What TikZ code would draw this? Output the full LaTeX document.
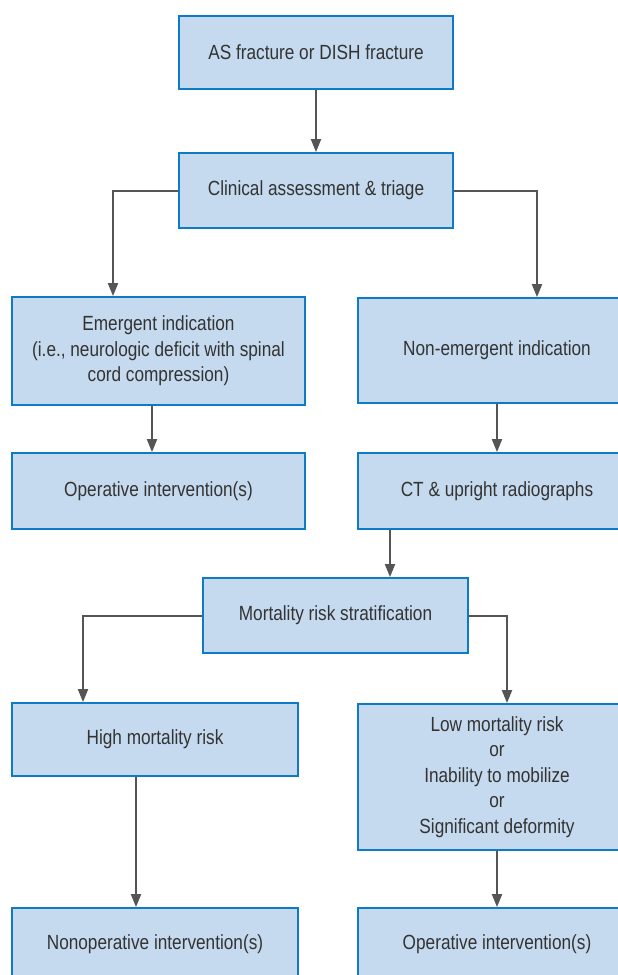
\documentclass[tikz,border=0pt]{standalone}
\usepackage{fontspec}
\setmainfont{Liberation Sans}[FakeStretch=0.84]
\usetikzlibrary{arrows.meta}
\definecolor{boxfill}{RGB}{197,218,238}
\definecolor{boxline}{RGB}{14,124,196}
\definecolor{arrowgray}{RGB}{85,85,85}
\begin{document}
\begin{tikzpicture}[x=1bp,y=-1bp]
        \tikzstyle{box}=[draw=boxline, line width=1.8bp, fill=boxfill, inner sep=0pt,
          align=center, text=black!80, font=\fontsize{20.5bp}{25.5bp}\selectfont]
        \tikzstyle{arr}=[draw=arrowgray, line width=2bp, -{Triangle[length=13bp,width=10bp]}]
        \useasboundingbox (0,0) rectangle (618,975);
        \clip (0,0) rectangle (618,975);
        % top part
        \node [box, minimum width=274bp, minimum height=73bp] (frac) at (316,52.5) {AS fracture or DISH fracture};
        \node [box, minimum width=274bp, minimum height=75bp] (clin) at (316,190.5) {Clinical assessment \& triage};
        \node [box, minimum width=293bp, minimum height=108bp] (emer) at (158.5,351) {Emergent indication\\(i.e., neurologic deficit with spinal\\cord compression)};
        \node [box, minimum width=278bp, minimum height=105bp] (nonem) at (497,350.5) {Non-emergent indication};
        \node [box, minimum width=293bp, minimum height=76bp] (opl) at (158.5,491) {Operative intervention(s)};
        \node [box, minimum width=278bp, minimum height=76bp] (ct) at (497,491) {CT \& upright radiographs};
        % bottom part
        \node [box, minimum width=265bp, minimum height=75bp] (mort) at (335.5,615.5) {Mortality risk stratification};
        \node [box, minimum width=286bp, minimum height=73bp] (high) at (155,739.5) {High mortality risk};
        \node [box, minimum width=278bp, minimum height=146bp] (low) at (497,777) {Low mortality risk\\or\\Inability to mobilize\\or\\Significant deformity};
        \node [box, minimum width=286bp, minimum height=72bp] (nonop) at (155,944) {Nonoperative intervention(s)};
        \node [box, minimum width=278bp, minimum height=72bp] (opr) at (497,944) {Operative intervention(s)};
        % connectors
        \coordinate (ctout) at ([xshift=-107bp]ct.south);
        \draw [arr] (frac) -- (clin);
        \draw [arr] (clin.west) -| ([xshift=-45.5bp]emer.north);
        \draw [arr] (clin.east) -| ([xshift=40bp]nonem.north);
        \draw [arr] ([xshift=-6.5bp]emer.south) -- ([xshift=-6.5bp]opl.north);
        \draw [arr] (nonem) -- (ct);
        \draw [arr] (ctout) -- (ctout |- mort.north);
        \draw [arr] (mort.west) -| ([xshift=-72bp]high.north);
        \draw [arr] (mort.east) -| ([xshift=10bp]low.north);
        \draw [arr] ([xshift=-19bp]high.south) -- ([xshift=-19bp]nonop.north);
        \draw [arr] (low) -- (opr);
\end{tikzpicture}
\end{document}
